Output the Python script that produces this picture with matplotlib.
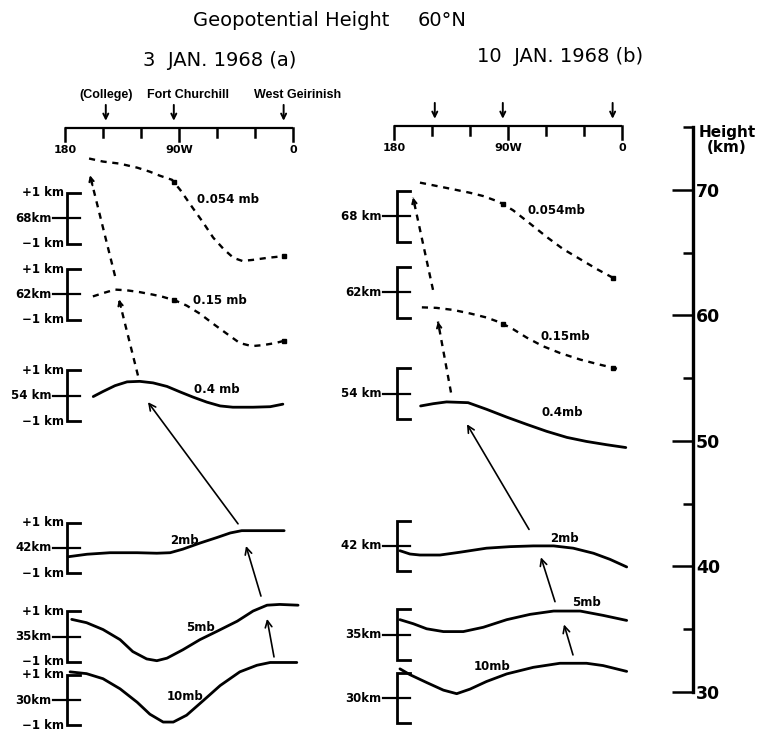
import numpy as np
import matplotlib
matplotlib.use('Agg')
import matplotlib.pyplot as plt

# pressure levels, mean heights (km) and how each curve is drawn
level_labels_a = ['0.054 mb', '0.15 mb', '0.4 mb', '2mb', '5mb', '10mb']
level_labels_b = ['0.054mb', '0.15mb', '0.4mb', '2mb', '5mb', '10mb']
base_km = [68, 62, 54, 42, 35, 30]
km_labels_a = ['68km', '62km', '54 km', '42km', '35km', '30km']
km_labels_b = ['68 km', '62km', '54 km', '42 km', '35km', '30km']
is_dashed = [True, True, False, False, False, False]

# rocket stations (deg W)
station_names = ['(College)', 'Fort Churchill', 'West Geirinish']
station_lon = [147.8, 94.1, 7.4]
marked_stations = [94.1, 7.4]

lon_ticks = [180, 150, 120, 90, 60, 30, 0]
lon_labels = {180: '180', 90: '90W', 0: '0'}

# height deviation (km) along 60N, 3 Jan 1968
a_lon_054 = [161, 150, 137, 123, 113, 105, 95.5, 89, 79, 71, 63, 55, 47, 40, 32, 20.5, 5.5]
a_dev_054 = [2.36, 2.24, 2.16, 2.0, 1.84, 1.68, 1.52, 1.12, 0.4, -0.16, -0.76, -1.2, -1.56, -1.68, -1.64, -1.56, -1.48]
a_lon_015 = [158, 150, 140.5, 131, 121, 110.5, 102.5, 93, 84, 73.5, 63, 52, 42, 32.5, 23.5, 14, 4.7]
a_dev_015 = [-0.08, 0.05, 0.19, 0.16, 0.09, -0.01, -0.1, -0.24, -0.44, -0.76, -1.16, -1.56, -1.92, -2.04, -2.0, -1.92, -1.8]
a_lon_04 = [157.7, 150, 140.5, 131, 121, 110.5, 99.5, 89, 79, 68, 57.5, 47.5, 31.5, 18, 8]
a_dev_04 = [-0.03, 0.17, 0.4, 0.55, 0.57, 0.51, 0.37, 0.15, -0.05, -0.25, -0.4, -0.45, -0.45, -0.43, -0.33]
a_lon_2 = [177.6, 162.6, 144.5, 123, 107.5, 97, 87, 73.5, 60, 49.5, 40.5, 26, 7]
a_dev_2 = [-0.35, -0.25, -0.19, -0.19, -0.21, -0.19, -0.05, 0.19, 0.41, 0.59, 0.68, 0.68, 0.68]
a_lon_5 = [174.7, 163, 150, 136.5, 126.5, 115.5, 107.5, 99.5, 87, 73.5, 60, 44, 31.5, 20.5, 10.5, -4]
a_dev_5 = [0.68, 0.55, 0.28, -0.12, -0.59, -0.88, -0.95, -0.85, -0.52, -0.12, 0.21, 0.61, 1.01, 1.24, 1.27, 1.24]
a_lon_10 = [176, 163, 150, 136.5, 123, 113, 102.5, 94.5, 84, 71, 57.5, 42, 28.5, 18, -3]
a_dev_10 = [1.11, 1.04, 0.84, 0.44, -0.09, -0.56, -0.87, -0.87, -0.6, -0.03, 0.57, 1.11, 1.37, 1.48, 1.48]

# height deviation (km) along 60N, 10 Jan 1968
b_lon_054 = [159.5, 146.5, 133.5, 120, 109.5, 97, 86, 72.5, 59, 46.5, 33, 19.5, 4.7]
b_dev_054 = [1.33, 1.2, 1.07, 0.93, 0.8, 0.57, 0.24, -0.29, -0.83, -1.29, -1.69, -2.09, -2.49]
b_lon_015 = [158, 146.5, 133.5, 120, 107, 96, 86, 75, 62.5, 49, 33, 17.5, 4]
b_dev_015 = [-0.59, -0.61, -0.69, -0.83, -0.99, -1.19, -1.45, -1.79, -2.12, -2.39, -2.65, -2.85, -3.01]
b_lon_04 = [159, 149, 138.5, 121.5, 107, 91, 75, 59.5, 43.5, 28, 12, -3]
b_dev_04 = [-0.48, -0.39, -0.32, -0.35, -0.61, -0.92, -1.21, -1.48, -1.72, -1.88, -2.01, -2.12]
b_lon_2 = [175.3, 167.4, 159.5, 143.7, 128, 107, 88.5, 70, 54, 38.5, 22.5, 9.5, -3.7]
b_dev_2 = [-0.19, -0.32, -0.36, -0.36, -0.25, -0.09, -0.03, 0, 0, -0.09, -0.29, -0.53, -0.83]
b_lon_5 = [175.3, 164.8, 154.2, 141, 125.3, 109.5, 91, 72.5, 54, 33, 15, -3.7]
b_dev_5 = [0.59, 0.43, 0.23, 0.12, 0.12, 0.29, 0.59, 0.8, 0.93, 0.93, 0.76, 0.56]
b_lon_10 = [175.3, 167.4, 154.2, 141, 130.5, 120, 107, 91, 70, 49, 28, 15, -3.7]
b_dev_10 = [1.15, 0.92, 0.61, 0.31, 0.17, 0.35, 0.65, 0.95, 1.21, 1.37, 1.37, 1.28, 1.05]

# ridge tracking arrows: (tail lon, tail km, head lon, head km, dashed)
ridges_a = [(43.4, 43.9, 114.5, 53.5, False), (25.3, 38.2, 37.1, 42.15, False),
            (15.0, 33.4, 20.5, 36.4, False), (122.4, 55.6, 137.4, 61.6, True),
            (140.5, 63.45, 160.3, 71.4, True)]
ridges_b = [(73.4, 43.3, 122.4, 51.6, False), (52.9, 37.6, 64.0, 41.1, False),
            (38.7, 33.4, 45.8, 35.8, False), (135.0, 54.1, 145.3, 59.7, True),
            (149.2, 62.2, 165.0, 69.5, True)]

# height scale (km)
scale_major = [30, 40, 50, 60, 70]
scale_minor = [35, 45, 55, 65, 75]

curves_a = [(a_lon_054, a_dev_054), (a_lon_015, a_dev_015), (a_lon_04, a_dev_04),
            (a_lon_2, a_dev_2), (a_lon_5, a_dev_5), (a_lon_10, a_dev_10)]
curves_b = [(b_lon_054, b_dev_054), (b_lon_015, b_dev_015), (b_lon_04, b_dev_04),
            (b_lon_2, b_dev_2), (b_lon_5, b_dev_5), (b_lon_10, b_dev_10)]

# where the level names sit (lon, km)
tags_a = [(76, 69.45), (79, 61.5), (78, 54.5), (97, 42.55), (84.5, 35.7), (99.5, 30.25)]
tags_b = [(75, 68.5), (64.7, 58.5), (63.2, 52.5), (56.8, 42.6), (39.5, 37.5), (116.8, 32.45)]
# station names: anchor lon and alignment
name_lon = [147.8, 115.5, 30.5]
name_ha = ['center', 'left', 'left']

plt.rcParams['font.family'] = 'DejaVu Sans'
W, H = 769.0, 731.0
fig = plt.figure(figsize=(7.69, 7.31), dpi=100)

def px_axes(x0, x1, y_top, y_bot):
    return fig.add_axes([x0 / W, 1 - y_bot / H, (x1 - x0) / W, (y_bot - y_top) / H])

DEV = 2.0  # 1 km of deviation is drawn as 2 km on the height axis
K = dict(color='k', clip_on=False)

def ridge_arrow(ax, tl, tk, hl, hk, dash):
    if dash:
        ax.plot([tl, hl], [tk, hk], ls=(0, (2.6, 2.4)), lw=1.7, **K)
        f = 0.9
        ax.annotate('', xy=(hl, hk), xytext=(tl + f * (hl - tl), tk + f * (hk - tk)),
                    arrowprops=dict(arrowstyle='->', lw=1.4, color='k', mutation_scale=8,
                                    shrinkA=0, shrinkB=0), annotation_clip=False)
    else:
        ax.annotate('', xy=(hl, hk), xytext=(tl, tk),
                    arrowprops=dict(arrowstyle='->', lw=1.2, color='k', mutation_scale=12,
                                    shrinkA=0, shrinkB=0), annotation_clip=False)

def draw_panel(ax, curves, tags, names, km_labels, ridges, bx, side_ticks):
    ax.set_xlim(180, 0)
    ax.set_ylim(30, 70)
    ax.axis('off')

    # longitude axis on top
    ax.plot([180, 0], [75.1, 75.1], lw=1.6, solid_capstyle='butt', **K)
    for t in lon_ticks:
        ax.plot([t, t], [75.1, 74.1 if t in lon_labels else 74.45], lw=1.8, **K)
    for t, s in lon_labels.items():
        ax.text(t, 73.4, s, ha='center', va='center', fontsize=8, fontweight='bold')
    for lon in station_lon:
        ax.annotate('', xy=(lon, 75.7), xytext=(lon, 76.95),
                    arrowprops=dict(arrowstyle='->', lw=1.4, color='k', mutation_scale=9,
                                    shrinkA=0, shrinkB=0), annotation_clip=False)

    for (lon, dev), b, dash, tag, name, kml in zip(curves, base_km, is_dashed, tags, names, km_labels):
        y = b + DEV * np.array(dev)
        if dash:
            ax.plot(lon, y, ls=(0, (2.6, 2.4)), lw=1.7, **K)
            for s in marked_stations:
                ax.plot(s, b + DEV * np.interp(s, lon[::-1], dev[::-1]), marker='s',
                        ms=3.5, **K)
        else:
            ax.plot(lon, y, lw=2.0, solid_joinstyle='round', solid_capstyle='round', **K)
        ax.text(tag[0], tag[1], name, ha='left', va='center', fontsize=8.5, fontweight='bold')

        # +-1 km bracket
        ax.plot([bx - 10, bx, bx, bx - 10], [b + DEV, b + DEV, b - DEV, b - DEV], lw=2.0,
                solid_joinstyle='miter', **K)
        ax.plot([bx + 11, bx - 10], [b, b], lw=1.6, **K)
        ax.text(bx + 12.5, b, kml, ha='right', va='center', fontsize=8.5, fontweight='bold')
        if side_ticks:
            ax.text(bx + 2.5, b + DEV, '+1 km', ha='right', va='center', fontsize=8.5,
                    fontweight='bold')
            ax.text(bx + 2.5, b - DEV, '\u22121 km', ha='right', va='center', fontsize=8.5,
                    fontweight='bold')

    for r in ridges:
        ridge_arrow(ax, *r)

# panel (a): 3 Jan 1968
ax_a = px_axes(65, 293, 193, 700)
draw_panel(ax_a, curves_a, tags_a, level_labels_a, km_labels_a, ridges_a, 178.4, True)
for lon, s, ha in zip(name_lon, station_names, name_ha):
    ax_a.text(lon, 77.75, s, ha=ha, va='center', fontsize=9, fontweight='bold',
              family='Liberation Sans')

# panel (b): 10 Jan 1968
ax_b = px_axes(394, 622, 191, 698)
draw_panel(ax_b, curves_b, tags_b, level_labels_b, km_labels_b, ridges_b, 177.6, False)

# height scale on the right
ax_s = px_axes(620, 693, 127, 692)
ax_s.set_ylim(30, 75)
ax_s.patch.set_alpha(0)
ax_s.xaxis.set_visible(False)
for sp in ['top', 'left', 'bottom']:
    ax_s.spines[sp].set_visible(False)
ax_s.spines['right'].set_linewidth(2.4)
ax_s.yaxis.set_ticks_position('right')
ax_s.set_yticks(scale_major)
ax_s.set_yticks(scale_minor, minor=True)
ax_s.tick_params(axis='y', which='major', direction='in', length=15, width=1.8,
                 labelsize=12.5, pad=2)
ax_s.tick_params(axis='y', which='minor', direction='in', length=7, width=1.8)
for lab in ax_s.get_yticklabels():
    lab.set_fontweight('bold')
fig.text(727 / W, 1 - 140 / H, 'Height\n(km)', ha='center', va='center', fontsize=11,
         fontweight='bold', linespacing=1.0)

# titles
fig.text(193 / W, 1 - 20 / H, 'Geopotential Height', ha='left', va='center', fontsize=14)
fig.text(418 / W, 1 - 20 / H, '60°N', ha='left', va='center', fontsize=14)
fig.text(143 / W, 1 - 60 / H, '3  JAN. 1968 (a)', ha='left', va='center', fontsize=14)
fig.text(477 / W, 1 - 57 / H, '10  JAN. 1968 (b)', ha='left', va='center', fontsize=14)

fig.savefig('out.png', dpi=100, facecolor='white')
